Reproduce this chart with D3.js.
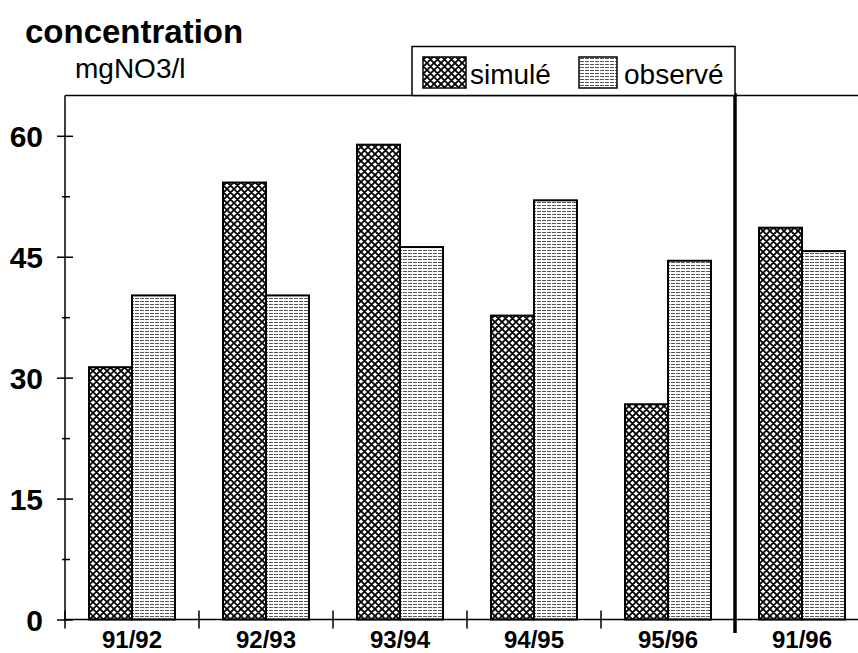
<!DOCTYPE html>
<html>
<head>
<meta charset="utf-8">
<script src="https://cdn.jsdelivr.net/npm/d3@7"></script>
<style>
  body { margin: 0; background: #fff; }
  svg { font-family: "Liberation Sans", Arial, Helvetica, sans-serif; }
</style>
</head>
<body>
<div id="chart"></div>
<script>
// data (mgNO3/l)
var categories = ["91/92", "92/93", "93/94", "94/95", "95/96", "91/96"];
var series = ["simulé", "observé"];
var simule = [31.3, 54.2, 58.9, 37.7, 26.7, 48.6];
var observe = [40.2, 40.2, 46.2, 52.0, 44.5, 45.7];
var majorTicks = [0, 15, 30, 45, 60];
var minorTicks = [7.5, 22.5, 37.5, 52.5];

var svgWidth = 858;
var svgHeight = 653;

var plot = { left: 65, top: 95.5, bottom: 619.5, right: 858 };

var svg = d3.select("#chart")
    .append("svg")
    .attr("width", svgWidth)
    .attr("height", svgHeight);

var defs = svg.append("defs");

// cross-hatched weave for "simulé"
var pSim = defs.append("pattern")
    .attr("id", "pat-sim")
    .attr("patternUnits", "userSpaceOnUse")
    .attr("width", 7)
    .attr("height", 7);
pSim.append("rect").attr("width", 7).attr("height", 7).attr("fill", "#fff");
pSim.append("path")
    .attr("d", "M-1,-1 L8,8 M-1,8 L8,-1 M-4.5,3.5 L3.5,-4.5 M3.5,11.5 L11.5,3.5 M-4.5,3.5 L3.5,11.5 M3.5,-4.5 L11.5,3.5")
    .attr("stroke", "#000")
    .attr("stroke-width", 1.8);

// fine dashed rows for "observé"
var pObs = defs.append("pattern")
    .attr("id", "pat-obs")
    .attr("patternUnits", "userSpaceOnUse")
    .attr("width", 5)
    .attr("height", 3);
pObs.append("rect").attr("width", 5).attr("height", 3).attr("fill", "#fff");
pObs.append("rect").attr("x", 0).attr("y", 1).attr("width", 4).attr("height", 1).attr("fill", "#555");

var fills = { "simulé": "url(#pat-sim)", "observé": "url(#pat-obs)" };

// scales
var x0 = d3.scaleBand()
    .domain(categories)
    .range([plot.left, plot.left + 134 * categories.length])
    .padding(0);

var x1 = d3.scaleBand()
    .domain(series)
    .range([24, 110])
    .padding(0);

var y = d3.scaleLinear()
    .domain([0, 65])
    .range([plot.bottom, plot.top]);

// frame top line
svg.append("line")
    .attr("x1", plot.left).attr("x2", plot.right)
    .attr("y1", plot.top).attr("y2", plot.top)
    .attr("stroke", "#000").attr("stroke-width", 1.5);

// bars
var rows = categories.map(function(c, i) {
    return { cat: c, values: [
        { key: "simulé", value: simule[i] },
        { key: "observé", value: observe[i] }
    ] };
});

var groups = svg.selectAll(".grp")
    .data(rows)
    .enter()
    .append("g")
    .attr("class", "grp")
    .attr("transform", d => `translate(${x0(d.cat)}, 0)`);

groups.selectAll("rect")
    .data(d => d.values)
    .enter()
    .append("rect")
    .attr("x", d => x1(d.key))
    .attr("y", d => y(d.value))
    .attr("width", x1.bandwidth())
    .attr("height", d => y(0) - y(d.value))
    .attr("fill", d => fills[d.key])
    .attr("stroke", "#000")
    .attr("stroke-width", 2);

// y axis
var leftAxis = d3.axisLeft(y)
    .tickValues(majorTicks)
    .tickFormat(d3.format("d"))
    .tickSize(8)
    .tickPadding(14);

var yAxis = svg.append("g")
    .attr("transform", `translate(${plot.left}, 0)`)
    .call(leftAxis);
yAxis.select(".domain").remove();
yAxis.selectAll(".tick line").attr("x1", 8).attr("stroke-width", 1.5);
yAxis.selectAll("text")
    .attr("font-size", 30)
    .attr("font-weight", "bold")
    .attr("font-family", "Liberation Sans, Arial, sans-serif")
    .attr("fill", "#000")
    .attr("dy", "0.36em");

var yMinor = svg.append("g")
    .attr("transform", `translate(${plot.left}, 0)`)
    .call(d3.axisLeft(y).tickValues(minorTicks).tickFormat("").tickSize(3));
yMinor.select(".domain").remove();
yMinor.selectAll(".tick line").attr("x1", 5).attr("stroke-width", 1.5);

svg.append("line")
    .attr("x1", plot.left).attr("x2", plot.left)
    .attr("y1", plot.top).attr("y2", plot.bottom)
    .attr("stroke", "#000").attr("stroke-width", 1.5);

// x axis: labels centred in bands, ticks on band edges
var bottomAxis = d3.axisBottom(x0)
    .tickSize(0)
    .tickPadding(11);

var xAxis = svg.append("g")
    .attr("transform", `translate(0, ${plot.bottom})`)
    .call(bottomAxis);
xAxis.select(".domain").remove();
xAxis.selectAll("text")
    .attr("font-size", 24)
    .attr("font-weight", "bold")
    .attr("font-family", "Liberation Sans, Arial, sans-serif")
    .attr("fill", "#000");

svg.append("line")
    .attr("x1", plot.left).attr("x2", plot.right)
    .attr("y1", plot.bottom).attr("y2", plot.bottom)
    .attr("stroke", "#000").attr("stroke-width", 1.5);

svg.selectAll(".xtick")
    .data(categories.slice(0, 5))
    .enter()
    .append("line")
    .attr("class", "xtick")
    .attr("x1", d => x0(d)).attr("x2", d => x0(d))
    .attr("y1", plot.bottom - 9).attr("y2", plot.bottom + 9)
    .attr("stroke", "#000").attr("stroke-width", 1.5);

// thick separator before the overall period
svg.append("line")
    .attr("x1", x0("91/96")).attr("x2", x0("91/96"))
    .attr("y1", plot.top - 2.5).attr("y2", plot.bottom + 13.5)
    .attr("stroke", "#000").attr("stroke-width", 3.5);

// titles
svg.append("text")
    .attr("x", 25).attr("y", 43)
    .attr("font-size", 33)
    .attr("font-weight", "bold")
    .text("concentration");

svg.append("text")
    .attr("x", 75).attr("y", 78)
    .attr("font-size", 28)
    .text("mgNO3/l");

// legend
var legend = svg.append("g");
legend.append("rect")
    .attr("x", 412).attr("y", 46.5)
    .attr("width", 323).attr("height", 49)
    .attr("fill", "#fff")
    .attr("stroke", "#000").attr("stroke-width", 1.5);

var legendItems = [
    { key: "simulé", sx: 423, sw: 43, tx: 470 },
    { key: "observé", sx: 579, sw: 38, tx: 624 }
];

legendItems.forEach(function(it) {
    legend.append("rect")
        .attr("x", it.sx).attr("y", 57)
        .attr("width", it.sw).attr("height", 31)
        .attr("fill", fills[it.key])
        .attr("stroke", "#000").attr("stroke-width", 1.5);
    legend.append("text")
        .attr("x", it.tx).attr("y", 84)
        .attr("font-size", 28)
        .text(it.key);
});
</script>
</body>
</html>
